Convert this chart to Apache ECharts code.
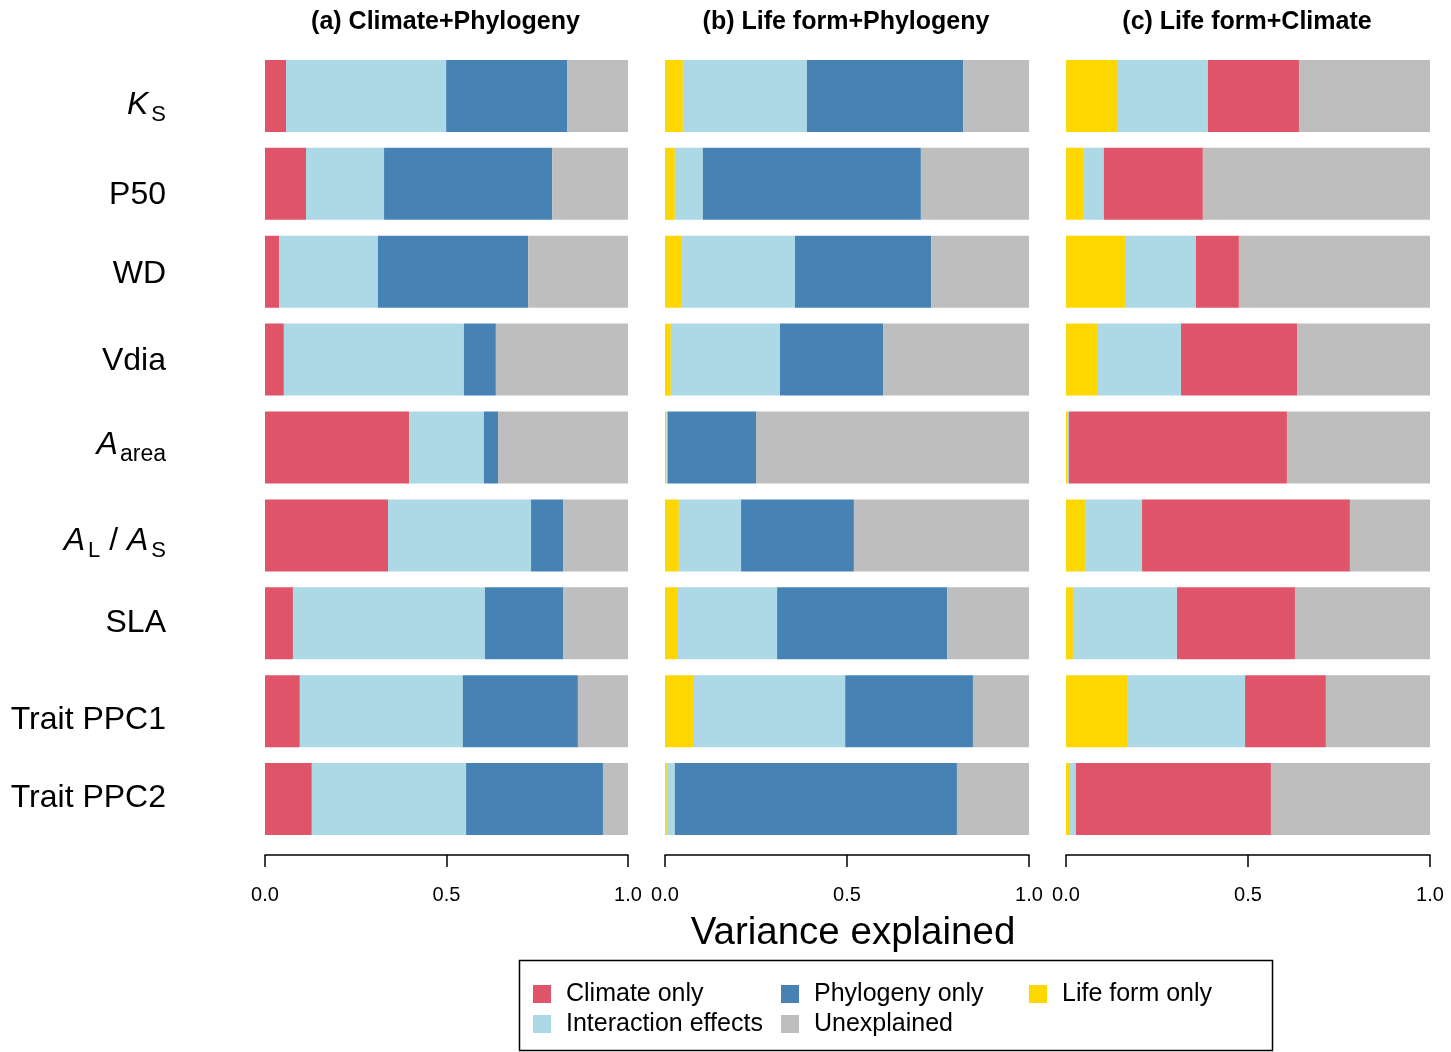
<!DOCTYPE html>
<html>
<head>
<meta charset="utf-8">
<script src="https://cdn.jsdelivr.net/npm/echarts@6/dist/echarts.min.js"></script>
<style>
  html, body { margin: 0; padding: 0; background: #fff; }
  #chart { width: 1451px; height: 1052px; }
</style>
</head>
<body>
<div id="chart"></div>
<script>
// Traits (rows, top to bottom)
const categories = ['Ks', 'P50', 'WD', 'Vdia', 'Aarea', 'AL/AS', 'SLA', 'Trait PPC1', 'Trait PPC2'];

// (a) Climate + Phylogeny
const aClimate     = [0.058, 0.113, 0.039, 0.052, 0.397, 0.339, 0.077, 0.096, 0.129];
const aInteraction = [0.441, 0.215, 0.272, 0.496, 0.206, 0.394, 0.529, 0.449, 0.425];
const aPhylogeny   = [0.333, 0.463, 0.414, 0.088, 0.039, 0.088, 0.215, 0.317, 0.377];
const aUnexplained = [0.168, 0.209, 0.275, 0.364, 0.358, 0.179, 0.179, 0.138, 0.069];

// (b) Life form + Phylogeny
const bLifeForm    = [0.049, 0.027, 0.047, 0.016, 0.004, 0.038, 0.033, 0.077, 0.005];
const bInteraction = [0.341, 0.077, 0.310, 0.300, 0.003, 0.171, 0.275, 0.418, 0.022];
const bPhylogeny   = [0.429, 0.599, 0.374, 0.283, 0.243, 0.310, 0.467, 0.351, 0.775];
const bUnexplained = [0.181, 0.297, 0.269, 0.401, 0.750, 0.481, 0.225, 0.154, 0.198];

// (c) Life form + Climate
const cLifeForm    = [0.140, 0.047, 0.162, 0.088, 0.005, 0.052, 0.019, 0.170, 0.011];
const cInteraction = [0.250, 0.057, 0.195, 0.228, 0.003, 0.157, 0.286, 0.322, 0.016];
const cClimate     = [0.250, 0.272, 0.118, 0.319, 0.599, 0.571, 0.324, 0.222, 0.536];
const cUnexplained = [0.360, 0.624, 0.525, 0.365, 0.393, 0.220, 0.371, 0.286, 0.437];

const panelTitles = ['(a) Climate+Phylogeny', '(b) Life form+Phylogeny', '(c) Life form+Climate'];
const xTicks = [0, 0.5, 1];

const COLORS = {
  'Climate only': '#E05469',
  'Interaction effects': '#ADD8E6',
  'Phylogeny only': '#4682B4',
  'Life form only': '#FFD700',
  'Unexplained': '#BEBEBE'
};

const FONT = '"Liberation Sans", Arial, Helvetica, sans-serif';

const panels = [
  { left: 265, width: 363, parts: [['Climate only', aClimate], ['Interaction effects', aInteraction], ['Phylogeny only', aPhylogeny], ['Unexplained', aUnexplained]] },
  { left: 665, width: 364, parts: [['Life form only', bLifeForm], ['Interaction effects', bInteraction], ['Phylogeny only', bPhylogeny], ['Unexplained', bUnexplained]] },
  { left: 1066, width: 364, parts: [['Life form only', cLifeForm], ['Interaction effects', cInteraction], ['Climate only', cClimate], ['Unexplained', cUnexplained]] }
];

// Row label markup (italic symbols with subscripts)
const labelMarkup = {
  'Ks': '{it|K}{sb|S}',
  'P50': '{up|P50}',
  'WD': '{up|WD}',
  'Vdia': '{up|Vdia}',
  'Aarea': '{it|A}{ar|area}',
  'AL/AS': '{it|A}{sb|L}{up| / }{it|A}{sb|S}',
  'SLA': '{up|SLA}',
  'Trait PPC1': '{up|Trait PPC1}',
  'Trait PPC2': '{up|Trait PPC2}'
};
// vertical nudge of each row label (px, downward)
const labelNudge = { 'Ks': 9, 'P50': 11, 'WD': 2, 'Vdia': 2, 'Aarea': -2, 'AL/AS': 6, 'SLA': 0, 'Trait PPC1': 9, 'Trait PPC2': -1 };

function vpad(shift, left) {
  return shift >= 0 ? [2 * shift, 0, 0, left || 0] : [0, 0, -2 * shift, left || 0];
}

const rich = {};
categories.forEach((c, i) => {
  const d = labelNudge[c];
  rich['it' + i] = { fontFamily: FONT, fontSize: 32, fontStyle: 'italic', color: '#000', padding: vpad(d) };
  rich['up' + i] = { fontFamily: FONT, fontSize: 32, color: '#000', padding: vpad(d) };
  rich['sb' + i] = { fontFamily: FONT, fontSize: 22, color: '#000', padding: vpad(d + 10, 3) };
  rich['ar' + i] = { fontFamily: FONT, fontSize: 23, color: '#000', padding: vpad(d + 9, 2) };
});

const grid = [], xAxis = [], yAxis = [], series = [], title = [];
panels.forEach((p, gi) => {
  grid.push({ left: p.left, width: p.width, top: 52, bottom: 209, containLabel: false });
  xAxis.push({
    gridIndex: gi, type: 'value', min: 0, max: 1, interval: 0.5, offset: 12,
    axisLine: { show: true, lineStyle: { color: '#000', width: 1.5 } },
    axisTick: { show: true, length: 12, lineStyle: { color: '#000', width: 1.5 } },
    splitLine: { show: false },
    axisLabel: {
      margin: 30, fontSize: 20, fontFamily: FONT, color: '#000',
      showMinLabel: true, showMaxLabel: true,
      formatter: v => xTicks.includes(v) ? v.toFixed(1) : ''
    }
  });
  yAxis.push({
    gridIndex: gi, type: 'category', data: categories, inverse: true,
    axisLine: { show: false }, axisTick: { show: false }, splitLine: { show: false },
    axisLabel: gi === 0 ? {
      show: true, margin: 99, align: 'right', rich: rich,
      formatter: (v, i) => labelMarkup[v].replace(/\{(it|up|sb|ar)\|/g, (m, k) => '{' + k + i + '|')
    } : { show: false }
  });
  p.parts.forEach(([name, vals]) => {
    series.push({
      name: name, type: 'bar', stack: 'panel' + gi,
      xAxisIndex: gi, yAxisIndex: gi,
      data: vals, barWidth: 72,
      itemStyle: { color: COLORS[name] },
      emphasis: { disabled: true },
      animation: false
    });
  });
  title.push({
    text: panelTitles[gi], left: p.left + p.width / 2 - 6, textAlign: 'center', top: 5,
    textStyle: { fontFamily: FONT, fontSize: 25, fontWeight: 'bold', color: '#000' }
  });
});

const legendText = { fontFamily: FONT, fontSize: 25, color: '#000', width: 200, lineHeight: 26, padding: [0, 0, 0, 10] };
const legend = [
  { data: ['Climate only', 'Phylogeny only', 'Life form only'], left: 533, top: 981, orient: 'horizontal', padding: 0,
    icon: 'rect', itemWidth: 18, itemHeight: 18, itemGap: 15, textStyle: legendText, selectedMode: false },
  { data: ['Interaction effects', 'Unexplained'], left: 533, top: 1011, orient: 'horizontal', padding: 0,
    icon: 'rect', itemWidth: 18, itemHeight: 18, itemGap: 15, textStyle: legendText, selectedMode: false }
];

const chart = echarts.init(document.getElementById('chart'), null, { renderer: 'canvas' });
chart.setOption({
  backgroundColor: '#fff',
  animation: false,
  title, grid, xAxis, yAxis, series, legend,
  graphic: [
    { type: 'text', x: 853, y: 933, z: 10, silent: true,
      style: { text: 'Variance explained', align: 'center', verticalAlign: 'middle',
               font: '38.5px ' + FONT, fill: '#000' } },
    { type: 'rect', shape: { x: 519.5, y: 960.5, width: 753, height: 90 },
      style: { fill: 'none', stroke: '#000', lineWidth: 1.5 }, silent: true }
  ]
});
</script>
</body>
</html>
